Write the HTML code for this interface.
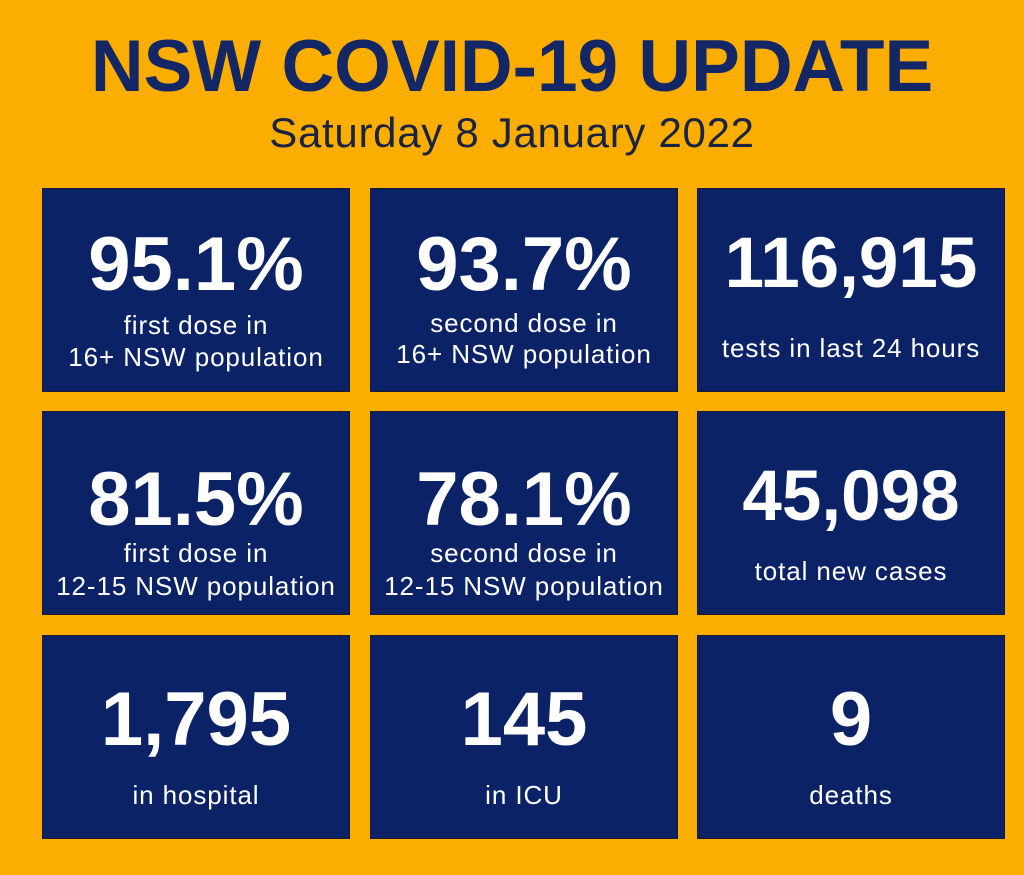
<!DOCTYPE html>
<html><head><meta charset="utf-8"><style>
body{margin:0;width:1024px;height:875px;background:#FBAE00;font-family:"Liberation Sans",Arial,sans-serif;position:relative;overflow:hidden}
.t{position:absolute;left:0;width:1024px;text-align:center;line-height:1;white-space:nowrap}
.b{position:absolute;width:308px;height:204px;background:#0B2366;border:1px solid #1a1a2a;box-sizing:border-box;color:#fff}
.b div{position:absolute;left:0;width:100%;text-align:center;line-height:1;white-space:nowrap}
.n{font-weight:bold;font-size:76px}
.s{font-size:26px;letter-spacing:0.9px}
</style></head><body>
<div class="t" style="top:30px;font-size:73px;font-weight:bold;color:#132766">NSW COVID-19 UPDATE</div>
<div class="t" style="top:112px;font-size:42px;letter-spacing:0.7px;color:#1b2344">Saturday 8 January 2022</div>

<div class="b" style="left:42px;top:188px"><div class="n" style="top:38px">95.1%</div><div class="s" style="top:123px">first dose in</div><div class="s" style="top:155px">16+ NSW population</div></div>
<div class="b" style="left:370px;top:188px"><div class="n" style="top:38px">93.7%</div><div class="s" style="top:121px">second dose in</div><div class="s" style="top:152px">16+ NSW population</div></div>
<div class="b" style="left:697px;top:188px"><div class="n" style="top:39px;font-size:71px">116,915</div><div class="s" style="top:146px">tests in last 24 hours</div></div>

<div class="b" style="left:42px;top:411px"><div class="n" style="top:50px">81.5%</div><div class="s" style="top:128px">first dose in</div><div class="s" style="top:161px">12-15 NSW population</div></div>
<div class="b" style="left:370px;top:411px"><div class="n" style="top:50px">78.1%</div><div class="s" style="top:128px">second dose in</div><div class="s" style="top:161px">12-15 NSW population</div></div>
<div class="b" style="left:697px;top:411px"><div class="n" style="top:49px;font-size:71px">45,098</div><div class="s" style="top:146px">total new cases</div></div>

<div class="b" style="left:42px;top:635px"><div class="n" style="top:46px">1,795</div><div class="s" style="top:146px">in hospital</div></div>
<div class="b" style="left:370px;top:635px"><div class="n" style="top:46px">145</div><div class="s" style="top:146px">in ICU</div></div>
<div class="b" style="left:697px;top:635px"><div class="n" style="top:46px">9</div><div class="s" style="top:146px">deaths</div></div>
</body></html>
